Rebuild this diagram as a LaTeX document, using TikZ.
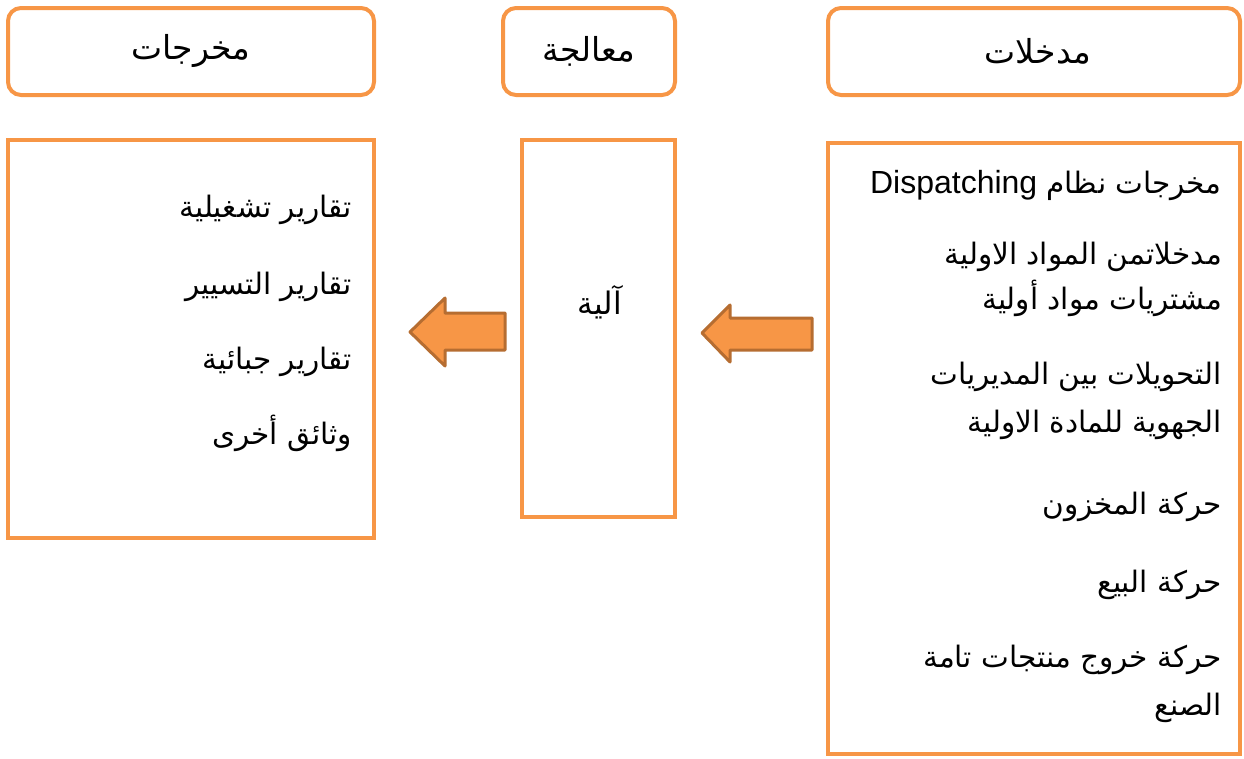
\documentclass[tikz,border=0pt]{standalone}
\usepackage{fontspec}
\setmainfont{Liberation Sans}
\newfontfamily\arabicfont[Script=Arabic]{DejaVu Sans}
\TeXXeTstate=1
\definecolor{boxorange}{HTML}{F79646}
\definecolor{arrowedge}{HTML}{B66D31}
\newcommand{\ar}[1]{{\arabicfont\beginR #1\endR}}
\begin{document}
\begin{tikzpicture}[x=1pt,y=-1pt,
  tbox/.style={draw=boxorange, line width=4pt, rounded corners=13pt, rectangle, inner sep=0pt},
  pbox/.style={draw=boxorange, line width=4pt, rectangle, inner sep=0pt},
  head/.style={font=\fontsize{33}{38}\selectfont, inner sep=0pt},
  item/.style={font=\fontsize{29.5}{34}\selectfont, inner sep=0pt, anchor=base east},
  blockarrow/.style={fill=boxorange, draw=arrowedge, line width=3pt, line join=round}]
\useasboundingbox (0,0) rectangle (1244,758);
% top headers
\node[tbox, minimum width=366pt, minimum height=87pt] (outH) at (191,51.5) {};
\node[tbox, minimum width=172pt, minimum height=87pt] (procH) at (589,51.5) {};
\node[tbox, minimum width=412pt, minimum height=87pt] (inH) at (1034,51.5) {};
\node[head] (outHt) at (191,51) {\ar{مخرجات}};
\node[head] (procHt) at (589,51) {\ar{معالجة}};
\node[head] (inHt) at (1038,51) {\ar{مدخلات}};
% body boxes
\node[pbox, minimum width=366pt, minimum height=398pt] (outB) at (191,339) {};
\node[pbox, minimum width=153pt, minimum height=377pt] (procB) at (598.5,328.5) {};
\node[pbox, minimum width=412pt, minimum height=611pt] (inB) at (1034,448.5) {};
% block arrows
\draw[blockarrow] (410,332) -- (445,298) -- (445,313) -- (505,313) -- (505,350) -- (445,350) -- (445,366) -- cycle;
\draw[blockarrow] (702,333) -- (730,305) -- (730,318) -- (812,318) -- (812,350) -- (730,350) -- (730,362) -- cycle;
% middle text
\node[item, anchor=base, font=\fontsize{31}{36}\selectfont] (mech) at (600,314) {\ar{آلية}};
% outputs
\node[item] (o1) at (352,217) {\ar{تقارير تشغيلية}};
\node[item] (o2) at (352,294) {\ar{تقارير التسيير}};
\node[item] (o3) at (352,369) {\ar{تقارير جبائية}};
\node[item] (o4) at (352,444) {\ar{وثائق أخرى}};
% inputs
\node[item] (i1) at (1222,193) {{\arabicfont\beginR مخرجات نظام \beginL{\rmfamily\fontsize{32}{36}\selectfont Dispatching}\endL\endR}};
\node[item] (i2a) at (1222,264) {\ar{مدخلاتمن المواد الاولية}};
\node[item] (i2b) at (1222,309) {\ar{مشتريات مواد أولية}};
\node[item] (i3a) at (1222,384) {\ar{التحويلات بين المديريات}};
\node[item] (i3b) at (1222,432) {\ar{الجهوية للمادة الاولية}};
\node[item] (i4) at (1222,514) {\ar{حركة المخزون}};
\node[item] (i5) at (1222,592) {\ar{حركة البيع}};
\node[item] (i6a) at (1222,667) {\ar{حركة خروج منتجات تامة}};
\node[item] (i6b) at (1222,715) {\ar{الصنع}};
\end{tikzpicture}
\end{document}
